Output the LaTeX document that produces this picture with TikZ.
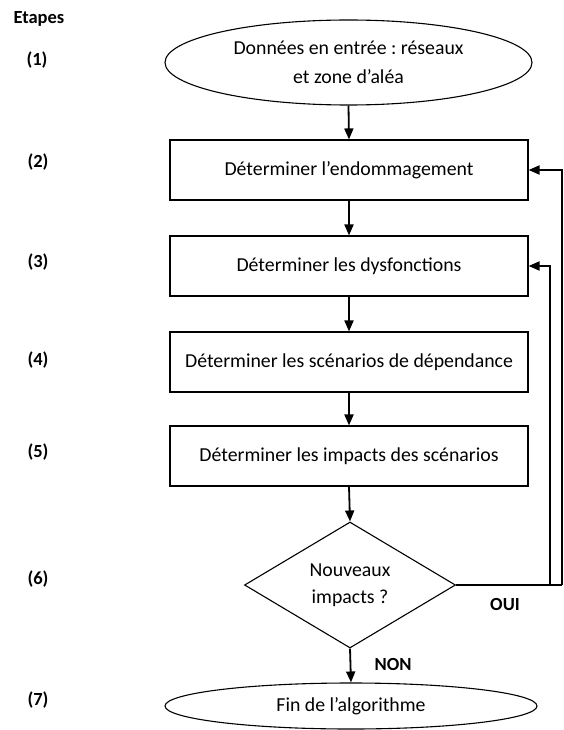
\documentclass[tikz,border=0pt]{standalone}
\usepackage{fontspec}
\setmainfont{Carlito}
\frenchspacing
\usetikzlibrary{shapes.geometric,arrows.meta}
\begin{document}
\begin{tikzpicture}[x=1pt,y=-1pt,
  every node/.style={font=\fontsize{19.8}{29}\selectfont},
  stepbox/.style={draw,line width=1.1pt,minimum width=358pt,minimum height=60pt,inner sep=0pt},
  ellbox/.style={draw,ellipse,line width=1.1pt,inner sep=0pt,align=center},
  decision/.style={draw,diamond,line width=1.1pt,inner sep=0pt,minimum width=211pt,minimum height=126pt,align=center},
  lbl/.style={font=\bfseries\fontsize{18.5}{20}\selectfont},
  flow/.style={line width=1.8pt,-{Triangle[length=11pt,width=9pt]}},
  back/.style={line width=1.8pt,-{Triangle[length=11pt,width=9pt]}}]
\useasboundingbox (0,0) rectangle (564,730);
\node[lbl,anchor=west] (et) at (10,19) {Etapes};
\node[lbl] (l1) at (37,60) {(1)};
\node[lbl] (l2) at (38,162) {(2)};
\node[lbl] (l3) at (38,262) {(3)};
\node[lbl] (l4) at (38,360) {(4)};
\node[lbl] (l5) at (38,452) {(5)};
\node[lbl] (l6) at (38,579) {(6)};
\node[lbl] (l7) at (38,700) {(7)};

\node[ellbox,minimum width=367pt,minimum height=85pt] (e1) at (348.5,62.5) {Données en entrée : réseaux\\et zone d’aléa};
\node[stepbox] (b2) at (349,170) {Déterminer l’endommagement};
\node[stepbox] (b3) at (349,266) {Déterminer les dysfonctions};
\node[stepbox] (b4) at (349,362) {Déterminer les scénarios de dépendance};
\node[stepbox] (b5) at (349,456) {Déterminer les impacts des scénarios};
\node[decision,font=\fontsize{19.8}{27}\selectfont] (d6) at (350,585) {Nouveaux\\impacts ?};
\node[ellbox,minimum width=372pt,minimum height=46pt] (e7) at (351,706) {Fin de l’algorithme};

\node[lbl] (oui) at (505,604) {OUI};
\node[lbl] (non) at (393,664) {NON};

\draw[flow] (e1.south) -- (b2.north);
\draw[flow] (b2.south) -- (b3.north);
\draw[flow] (b3.south) -- (b4.north);
\draw[flow] (b4.south) -- (b5.north);
\draw[flow] (b5.south) -- (d6.north);
\draw[flow] (d6.south) -- (e7.north);

\coordinate (c1) at (562,585);
\coordinate (c2) at (550,585);
\draw[line width=1.8pt] (d6.east) -- (c1);
\draw[back] (c1) |- (b2.east);
\draw[back] (c2) |- (b3.east);
\end{tikzpicture}
\end{document}
